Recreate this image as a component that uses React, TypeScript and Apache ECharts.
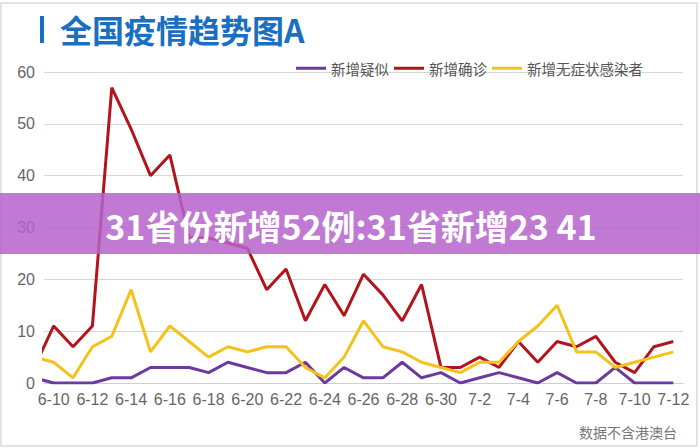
import React, { useEffect, useRef } from 'react';
import * as echarts from 'echarts';

// first date (6-9) lies just outside the visible axis range; its line segment is clipped
const dates = [
  '6-9', '6-10', '6-11', '6-12', '6-13', '6-14', '6-15', '6-16', '6-17', '6-18', '6-19',
  '6-20', '6-21', '6-22', '6-23', '6-24', '6-25', '6-26', '6-27', '6-28', '6-29', '6-30',
  '7-1', '7-2', '7-3', '7-4', '7-5', '7-6', '7-7', '7-8', '7-9', '7-10', '7-11', '7-12',
];
const suspected = [1, 0, 0, 0, 1, 1, 3, 3, 3, 2, 4, 3, 2, 2, 4, 0, 3, 1, 1, 4, 1, 2, 0, 1, 2, 1, 0, 2, 0, 0, 3, 0, 0, 0];
const confirmed = [3, 11, 7, 11, 57, 49, 40, 44, 28, 28, 27, 26, 18, 22, 12, 19, 13, 21, 17, 12, 19, 3, 3, 5, 3, 8, 4, 8, 7, 9, 4, 2, 7, 8];
const asymptomatic = [5, 4, 1, 7, 9, 18, 6, 11, 8, 5, 7, 6, 7, 7, 3, 1, 5, 12, 7, 6, 4, 3, 2, 4, 4, 8, 11, 15, 6, 6, 3, 4, 5, 6];
const seriesNames = ['新增疑似', '新增确诊', '新增无症状感染者'];
const seriesColors = ['#6B3A9E', '#B3141C', '#F5C21B'];
const titleText = '全国疫情趋势图A';
const bannerText = '31省份新增52例:31省新增23 41';
const noteText = '数据不含港澳台';
const yMin = 0;
const yMax = 60;
const yStep = 10;

const CJK = '"Noto Sans CJK SC", "Noto Sans", sans-serif';
const LAT = '"Liberation Sans", Arial, sans-serif';

export default function App() {
  const ref = useRef<HTMLDivElement>(null);
  useEffect(() => {
    if (!ref.current) return;
    const chart = echarts.init(ref.current, null, { renderer: 'svg' });
    const everyOther = (index: number) => index % 2 === 1;
    const values = [suspected, confirmed, asymptomatic];
    chart.setOption({
      animation: false,
      backgroundColor: '#ffffff',
      grid: { left: 44, right: 17, top: 72, bottom: 65 },
      legend: {
        data: seriesNames,
        left: 291,
        top: 56,
        icon: 'rect',
        itemWidth: 30,
        itemHeight: 3,
        itemGap: 5,
        textStyle: { fontSize: 14.5, color: '#555', fontFamily: CJK },
      },
      xAxis: {
        type: 'category',
        data: dates,
        min: 1,
        boundaryGap: true,
        axisLine: { lineStyle: { color: '#cfcfcf', width: 1 } },
        axisTick: { interval: everyOther, length: 5, lineStyle: { color: '#cfcfcf' } },
        axisLabel: { interval: everyOther, fontSize: 16, color: '#666', margin: 8, fontFamily: LAT },
        splitLine: { show: false },
      },
      yAxis: {
        type: 'value',
        min: yMin,
        max: yMax,
        interval: yStep,
        axisLine: { show: false },
        axisTick: { show: false },
        axisLabel: { fontSize: 16, color: '#666', margin: 9, fontFamily: LAT },
        splitLine: { lineStyle: { color: '#d6d6d6', width: 1 } },
      },
      series: seriesNames.map((name, i) => ({
        name,
        type: 'line',
        data: values[i],
        showSymbol: false,
        symbol: 'none',
        clip: true,
        color: seriesColors[i],
        lineStyle: { width: 3, color: seriesColors[i] },
      })),
      graphic: [
        {
          type: 'rect',
          shape: { x: 1, y: 3, width: 696, height: 443 },
          style: { fill: 'none', stroke: '#dadada', lineWidth: 1.5 },
          z: 1,
        },
        {
          type: 'rect',
          shape: { x: 40, y: 16, width: 4, height: 27 },
          style: { fill: '#1a6fc0' },
        },
        {
          type: 'text',
          x: 60,
          y: 29,
          style: {
            text: titleText,
            fill: '#1a6fc0',
            fontSize: 32,
            fontWeight: 'bold',
            fontFamily: CJK,
            verticalAlign: 'middle',
          },
        },
        {
          type: 'text',
          x: 677,
          y: 432,
          style: {
            text: noteText,
            fill: '#777',
            fontSize: 14,
            fontFamily: CJK,
            align: 'right',
            verticalAlign: 'middle',
          },
        },
        {
          type: 'rect',
          shape: { x: 0, y: 193, width: 700, height: 61 },
          style: { fill: 'rgba(181, 99, 203, 0.85)' },
          z: 100,
        },
        {
          type: 'text',
          x: 351,
          y: 225,
          z: 101,
          style: {
            text: bannerText,
            fill: '#ffffff',
            fontSize: 34,
            fontWeight: 'bold',
            fontFamily: CJK,
            align: 'center',
            verticalAlign: 'middle',
          },
        },
      ],
    });
    return () => chart.dispose();
  }, []);
  return (
    <div
      ref={ref}
      style={{ position: 'fixed', left: 0, top: 0, width: 700, height: 448, background: '#fff' }}
    />
  );
}
